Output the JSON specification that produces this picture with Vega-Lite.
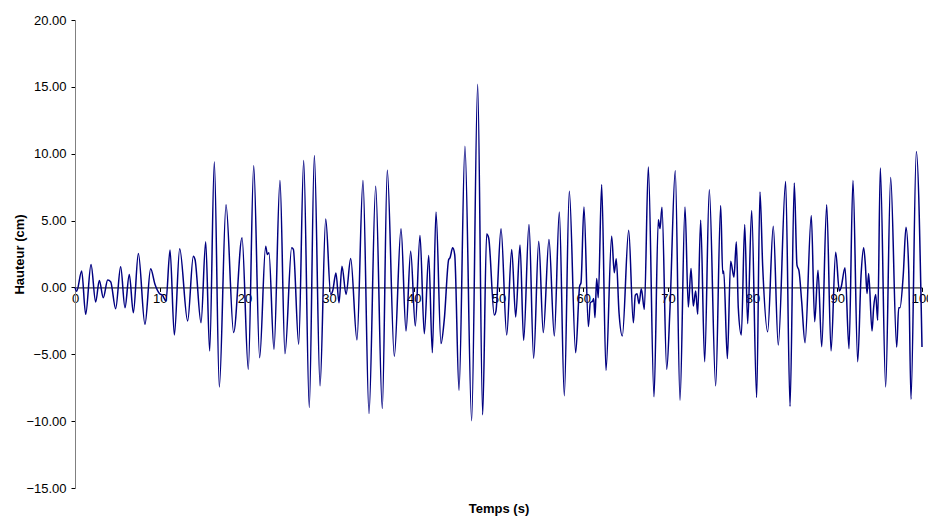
{
  "$schema": "https://vega.github.io/schema/vega-lite/v6.json",
  "width": 847,
  "height": 468,
  "autosize": {"type": "none"},
  "padding": {"left": 75, "top": 20, "right": 6, "bottom": 28},
  "background": "white",
  "config": {"view": {"stroke": null}, "font": "Liberation Sans"},
  "data": {"values": [
    {"t": 0, "h": 0}, {"t": 0.2, "h": -0.28}, {"t": 0.79, "h": 1.22}, {"t": 1.26, "h": -2.01}, {"t": 1.89, "h": 1.72},
    {"t": 2.44, "h": -1.09}, {"t": 2.87, "h": 0.52}, {"t": 3.34, "h": -0.77}, {"t": 3.86, "h": 0.55}, {"t": 4.21, "h": 0.42},
    {"t": 4.8, "h": -1.59}, {"t": 5.39, "h": 1.54}, {"t": 5.9, "h": -1.52}, {"t": 6.41, "h": 0.97}, {"t": 6.89, "h": -1.89},
    {"t": 7.48, "h": 2.54}, {"t": 8.26, "h": -2.76}, {"t": 8.93, "h": 1.39}, {"t": 9.45, "h": 0.22}, {"t": 9.96, "h": -0.45},
    {"t": 10.35, "h": -0.6}, {"t": 10.74, "h": -1.02}, {"t": 11.22, "h": 2.79}, {"t": 11.73, "h": -3.56}, {"t": 12.36, "h": 2.89},
    {"t": 13.3, "h": -2.51}, {"t": 13.97, "h": 2.34}, {"t": 14.17, "h": 2.09}, {"t": 14.88, "h": -2.64}, {"t": 15.43, "h": 3.41},
    {"t": 15.9, "h": -4.75}, {"t": 16.45, "h": 9.38}, {"t": 17.04, "h": -7.44}, {"t": 17.83, "h": 6.19}, {"t": 18.73, "h": -3.38},
    {"t": 19.72, "h": 3.71}, {"t": 20.46, "h": -6.12}, {"t": 21.1, "h": 9.1}, {"t": 21.8, "h": -5.25}, {"t": 22.51, "h": 3.08},
    {"t": 22.71, "h": 2.46}, {"t": 22.9, "h": 2.59}, {"t": 23.49, "h": -4.63}, {"t": 24.2, "h": 7.99}, {"t": 24.79, "h": -4.95},
    {"t": 25.58, "h": 2.96}, {"t": 25.78, "h": 2.84}, {"t": 26.41, "h": -4.25}, {"t": 27.0, "h": 9.5}, {"t": 27.66, "h": -8.98},
    {"t": 28.26, "h": 9.87}, {"t": 28.93, "h": -7.36}, {"t": 29.6, "h": 5.12}, {"t": 30.19, "h": -0.52}, {"t": 30.42, "h": -0.27},
    {"t": 30.81, "h": 1.07}, {"t": 31.17, "h": -1.14}, {"t": 31.52, "h": 1.59}, {"t": 32.0, "h": -0.52}, {"t": 32.55, "h": 2.16},
    {"t": 33.29, "h": -3.93}, {"t": 34.0, "h": 7.99}, {"t": 34.71, "h": -9.43}, {"t": 35.5, "h": 7.56}, {"t": 36.28, "h": -9.05},
    {"t": 36.87, "h": 8.76}, {"t": 37.7, "h": -5.15}, {"t": 38.49, "h": 4.38}, {"t": 39.08, "h": -3.26}, {"t": 39.63, "h": 2.71},
    {"t": 40.18, "h": -2.89}, {"t": 40.73, "h": 3.88}, {"t": 41.24, "h": -3.46}, {"t": 41.76, "h": 2.39}, {"t": 42.19, "h": -4.88},
    {"t": 42.62, "h": 5.65}, {"t": 43.21, "h": -4.2}, {"t": 43.6, "h": -2.39}, {"t": 44.12, "h": 2.09}, {"t": 44.27, "h": 2.21},
    {"t": 44.59, "h": 2.96}, {"t": 44.83, "h": 2.46}, {"t": 45.34, "h": -7.69}, {"t": 46.04, "h": 10.55}, {"t": 46.83, "h": -9.97},
    {"t": 47.54, "h": 15.2}, {"t": 48.13, "h": -9.53}, {"t": 48.6, "h": 4.0}, {"t": 48.84, "h": 3.7}, {"t": 49.5, "h": -2.07},
    {"t": 49.7, "h": -1.77}, {"t": 50.3, "h": 4.38}, {"t": 50.97, "h": -3.56}, {"t": 51.56, "h": 2.84}, {"t": 52.03, "h": -2.21},
    {"t": 52.54, "h": 3.18}, {"t": 52.97, "h": -3.96}, {"t": 53.6, "h": 4.7}, {"t": 54.15, "h": -5.3}, {"t": 54.75, "h": 3.46},
    {"t": 55.29, "h": -3.38}, {"t": 55.96, "h": 3.58}, {"t": 56.59, "h": -3.63}, {"t": 57.18, "h": 5.65}, {"t": 57.77, "h": -8.11},
    {"t": 58.36, "h": 7.19}, {"t": 59.11, "h": -4.88}, {"t": 59.58, "h": 0.1}, {"t": 59.74, "h": 0.35}, {"t": 60.09, "h": 6.02},
    {"t": 60.61, "h": -2.93}, {"t": 60.84, "h": -1.14}, {"t": 61.12, "h": -1.02}, {"t": 61.24, "h": -0.82}, {"t": 61.39, "h": -2.26},
    {"t": 61.59, "h": 0.67}, {"t": 61.78, "h": -0.77}, {"t": 62.18, "h": 7.69}, {"t": 62.69, "h": -6.19}, {"t": 63.36, "h": 3.83},
    {"t": 63.67, "h": 1.1}, {"t": 63.9, "h": 2.14}, {"t": 64.23, "h": -1.89}, {"t": 64.62, "h": -3.63}, {"t": 65.37, "h": 4.28},
    {"t": 65.92, "h": -2.64}, {"t": 66.15, "h": -0.57}, {"t": 66.35, "h": -0.47}, {"t": 66.59, "h": -1.22}, {"t": 66.86, "h": -0.1},
    {"t": 67.22, "h": -1.64}, {"t": 67.69, "h": 9.0}, {"t": 68.36, "h": -8.18}, {"t": 68.87, "h": 5.07}, {"t": 69.07, "h": 4.4},
    {"t": 69.3, "h": 6.0}, {"t": 69.86, "h": -6.12}, {"t": 70.25, "h": -1.52}, {"t": 70.87, "h": 8.73}, {"t": 71.43, "h": -8.43},
    {"t": 72.02, "h": 6.02}, {"t": 72.41, "h": -1.47}, {"t": 72.73, "h": 1.42}, {"t": 73.0, "h": -1.39}, {"t": 73.28, "h": -0.27},
    {"t": 73.52, "h": -2.01}, {"t": 73.87, "h": 5.03}, {"t": 74.34, "h": -5.55}, {"t": 74.89, "h": 7.31}, {"t": 75.64, "h": -7.36},
    {"t": 76.23, "h": 6.12}, {"t": 76.47, "h": 1.04}, {"t": 76.59, "h": 1.22}, {"t": 77.02, "h": -5.32}, {"t": 77.41, "h": 1.96},
    {"t": 77.8, "h": 0.77}, {"t": 78.08, "h": 3.41}, {"t": 78.31, "h": -1.52}, {"t": 78.67, "h": -3.56}, {"t": 79.07, "h": 4.7},
    {"t": 79.42, "h": -2.71}, {"t": 79.89, "h": 5.75}, {"t": 80.48, "h": -8.23}, {"t": 80.87, "h": 7.14}, {"t": 81.19, "h": 1.59},
    {"t": 81.78, "h": -3.31}, {"t": 82.44, "h": 4.57}, {"t": 83.03, "h": -4.31}, {"t": 83.9, "h": 7.93}, {"t": 84.42, "h": -8.9},
    {"t": 84.92, "h": 7.81}, {"t": 85.24, "h": 1.66}, {"t": 85.48, "h": 1.22}, {"t": 85.79, "h": -1.02}, {"t": 86.19, "h": -4.13},
    {"t": 86.93, "h": 5.37}, {"t": 87.33, "h": -2.56}, {"t": 87.72, "h": 1.29}, {"t": 88.16, "h": -4.43}, {"t": 88.75, "h": 6.19},
    {"t": 89.26, "h": -4.75}, {"t": 89.81, "h": 2.64}, {"t": 90.24, "h": -0.27}, {"t": 90.44, "h": -0.02}, {"t": 90.91, "h": 1.47},
    {"t": 91.38, "h": -4.58}, {"t": 91.85, "h": 7.99}, {"t": 92.41, "h": -5.55}, {"t": 92.8, "h": 0.85}, {"t": 93.11, "h": 2.96},
    {"t": 93.31, "h": 1.72}, {"t": 93.51, "h": -0.45}, {"t": 93.7, "h": 1.04}, {"t": 94.1, "h": -3.26}, {"t": 94.29, "h": -1.52},
    {"t": 94.53, "h": -0.52}, {"t": 94.77, "h": -2.46}, {"t": 95.08, "h": 8.93}, {"t": 95.71, "h": -7.44}, {"t": 96.3, "h": 8.23},
    {"t": 97.01, "h": -4.46}, {"t": 97.25, "h": -1.52}, {"t": 97.4, "h": -1.52}, {"t": 97.79, "h": 0.97}, {"t": 98.11, "h": 4.5},
    {"t": 98.43, "h": 1.34}, {"t": 98.7, "h": -8.36}, {"t": 99.33, "h": 10.17}, {"t": 100.0, "h": -4.46}
  ]},
  "mark": {"type": "line", "interpolate": "monotone", "color": "#000080", "strokeWidth": 1.5},
  "encoding": {
    "x": {
      "field": "t", "type": "quantitative",
      "scale": {"domain": [0, 100], "nice": false, "zero": false},
      "axis": {
        "title": "Temps (s)",
        "values": [0, 10, 20, 30, 40, 50, 60, 70, 80, 90, 100],
        "format": "d",
        "grid": false,
        "offset": -200.57,
        "domainColor": "#000000",
        "domainWidth": 1,
        "tickColor": "#000000",
        "tickSize": 4,
        "labelFontSize": 13,
        "labelColor": "#000000",
        "labelPadding": 1,
        "labelFlush": false,
        "labelOverlap": false,
        "labelBound": false,
        "titleFontSize": 13,
        "titleFontWeight": "bold",
        "titleColor": "#000000",
        "titleX": 423.5,
        "titleY": 225.5,
        "titleAlign": "center",
        "titleBaseline": "alphabetic"
      }
    },
    "y": {
      "field": "h", "type": "quantitative",
      "scale": {"domain": [-15, 20], "nice": false, "zero": false},
      "axis": {
        "title": "Hauteur (cm)",
        "values": [-15, -10, -5, 0, 5, 10, 15, 20],
        "format": ".2f",
        "grid": false,
        "domainColor": "#808080",
        "domainWidth": 1,
        "tickColor": "#000000",
        "tickSize": 4,
        "labelFontSize": 13,
        "labelColor": "#000000",
        "labelPadding": 5,
        "labelFlush": false,
        "titleFontSize": 13,
        "titleFontWeight": "bold",
        "titleColor": "#000000",
        "titleAngle": -90,
        "titleX": -55.5,
        "titleY": 234,
        "titleAlign": "center",
        "titleBaseline": "middle"
      }
    }
  }
}
